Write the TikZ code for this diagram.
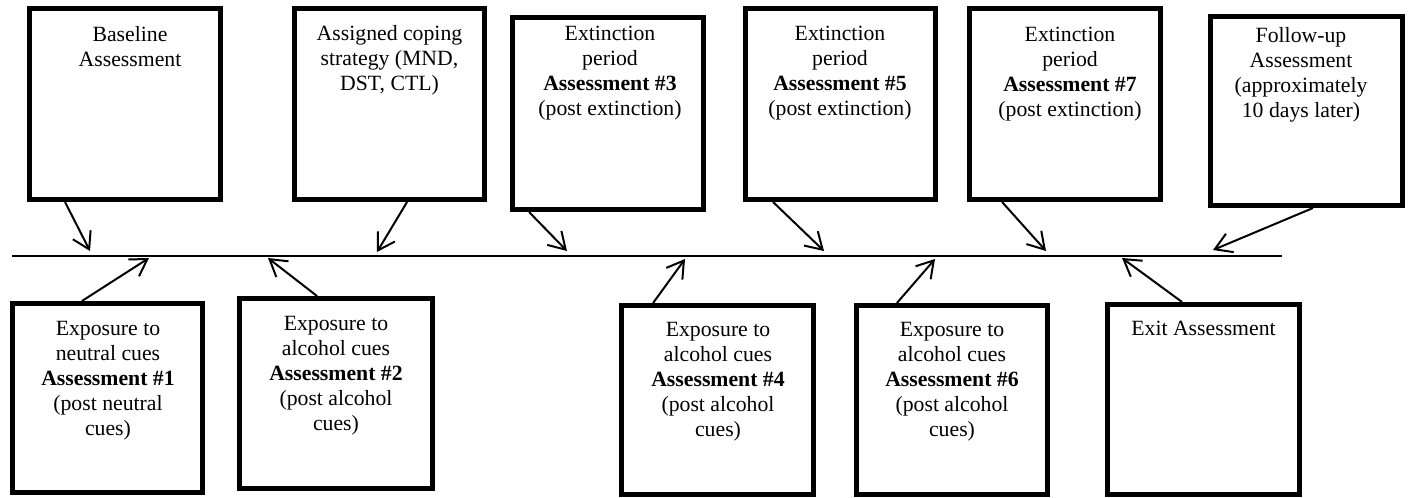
\documentclass[tikz,border=0pt]{standalone}
\usepackage{fontspec}
\setmainfont{Liberation Serif}
\usetikzlibrary{arrows.meta,calc}

\begin{document}
\begin{tikzpicture}[x=0.552pt,y=-0.552pt,
    stage/.style 2 args={draw,line width=2.76pt,minimum width=#1*0.552pt,minimum height=#2*0.552pt,inner sep=0pt},
    txt/.style={anchor=north,align=center,inner sep=0pt,font=\fontsize{12}{13.8}\selectfont},
    pointer/.style={line width=1.1pt,-{Straight Barb[length=9pt,width=11pt]}}]
\useasboundingbox (0,0) rectangle (1410,497);
% Time line
\coordinate (tl) at (12,256);
\coordinate (tr) at (1282,256);
\draw[line width=1.1pt] (tl) -- (tr);

% Upper boxes
\node[stage={191}{191}] (base) at (125,104) {};
\node[stage={190}{191}] (cope) at (389.5,104) {};
\node[stage={191}{192}] (ext3) at (608,113.5) {};
\node[stage={190}{191}] (ext5) at (840.5,104) {};
\node[stage={191}{191}] (ext7) at (1065,104) {};
\node[stage={192}{189}] (follow) at (1306.5,111) {};
% Lower boxes
\node[stage={190}{189}] (cue1) at (107.5,398) {};
\node[stage={193}{190}] (cue2) at (336,393.5) {};
\node[stage={192}{189}] (cue4) at (717.5,400) {};
\node[stage={191}{189}] (cue6) at (952,400) {};
\node[stage={192}{190}] (exit) at (1203.5,399.5) {};

% Texts
\node[txt] (baseT) at (130,26) {Baseline\\Assessment};
\node[txt] (copeT) at (389.5,25) {Assigned coping\\strategy (MND,\\DST, CTL)};
\node[txt] (ext3T) at (610,26) {Extinction\\period\\\textbf{Assessment \#3}\\(post extinction)};
\node[txt] (ext5T) at (840,26) {Extinction\\period\\\textbf{Assessment \#5}\\(post extinction)};
\node[txt] (ext7T) at (1070,27) {Extinction\\period\\\textbf{Assessment \#7}\\(post extinction)};
\node[txt] (followT) at (1301,27) {Follow-up\\Assessment\\(approximately\\10 days later)};
\node[txt] (cue1T) at (108,321) {Exposure to\\neutral cues\\\textbf{Assessment \#1}\\(post neutral\\cues)};
\node[txt] (cue2T) at (336,316) {Exposure to\\alcohol cues\\\textbf{Assessment \#2}\\(post alcohol\\cues)};
\node[txt] (cue4T) at (718,322) {Exposure to\\alcohol cues\\\textbf{Assessment \#4}\\(post alcohol\\cues)};
\node[txt] (cue6T) at (952,322) {Exposure to\\alcohol cues\\\textbf{Assessment \#6}\\(post alcohol\\cues)};
\node[txt] (exitT) at (1203.5,321) {Exit Assessment};

% Arrow tips on the time line
\coordinate (a1) at (90,251);
\coordinate (a2) at (377,252);
\coordinate (a3) at (567,251);
\coordinate (a4) at (824,251);
\coordinate (a5) at (1046,251);
\coordinate (a6) at (1213,250);
\coordinate (b1) at (149,258);
\coordinate (b2) at (268,258);
\coordinate (b3) at (685,259);
\coordinate (b4) at (935,259);
\coordinate (b5) at (1122,258);

\draw[pointer] ($(base.south west)!0.194!(base.south east)$) -- (a1);
\draw[pointer] ($(cope.south west)!0.59!(cope.south east)$) -- (a2);
\draw[pointer] ($(ext3.south west)!0.097!(ext3.south east)$) -- (a3);
\draw[pointer] ($(ext5.south west)!0.154!(ext5.south east)$) -- (a4);
\draw[pointer] ($(ext7.south west)!0.179!(ext7.south east)$) -- (a5);
\draw[pointer] ($(follow.south west)!0.533!(follow.south east)$) -- (a6);
\draw[pointer] ($(cue1.north west)!0.369!(cue1.north east)$) -- (b1);
\draw[pointer] ($(cue2.north west)!0.404!(cue2.north east)$) -- (b2);
\draw[pointer] ($(cue4.north west)!0.173!(cue4.north east)$) -- (b3);
\draw[pointer] ($(cue6.north west)!0.219!(cue6.north east)$) -- (b4);
\draw[pointer] ($(exit.north west)!0.391!(exit.north east)$) -- (b5);
\end{tikzpicture}
\end{document}
